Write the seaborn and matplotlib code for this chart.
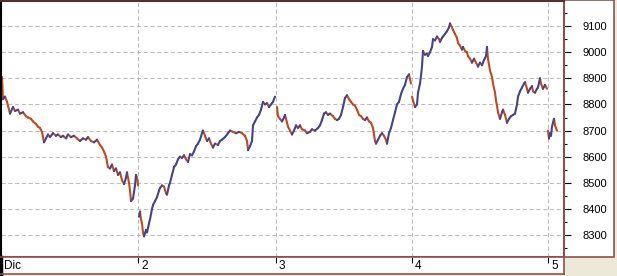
import numpy as np
import pandas as pd
import matplotlib
matplotlib.use("Agg")
import matplotlib.pyplot as plt
from matplotlib.patches import Rectangle
from matplotlib.ticker import MultipleLocator
import seaborn as sns

# ---- data: time axis in chart bar-units (one trading day ~ 137 units) ----
day_labels = ["Dic", "2", "3", "4", "5"]
day_starts = [1, 138, 275.7, 411.7, 548]

t_d1 = [2, 3, 5, 7, 10, 13, 15, 18, 20, 23, 26, 28, 31, 33, 36, 38, 40, 42, 44, 46,
        48, 50, 53, 56, 58, 61, 63, 66, 68, 71, 74, 77, 80, 83, 86, 88, 91, 94, 97, 100,
        102, 104, 106, 108, 110, 112, 114, 116, 118, 120, 122, 124, 126, 127, 129, 130,
        131, 133, 134, 135, 136, 137, 138]
p_d1 = [8905, 8820, 8830, 8810, 8765, 8790, 8775, 8780, 8765, 8770, 8755, 8750, 8745,
        8735, 8725, 8715, 8710, 8695, 8655, 8670, 8685, 8675, 8690, 8680, 8685, 8675,
        8680, 8670, 8685, 8675, 8680, 8670, 8660, 8670, 8665, 8675, 8660, 8655, 8665,
        8645, 8635, 8620, 8600, 8560, 8555, 8570, 8545, 8555, 8530, 8540, 8510, 8495,
        8520, 8540, 8500, 8470, 8430, 8440, 8465, 8490, 8530, 8520, 8490]

t_d2 = [139, 140, 141, 142, 143, 144, 146, 147, 149, 150, 152, 153, 155, 157, 159, 160,
        162, 164, 166, 167, 169, 170, 172, 174, 176, 178, 180, 182, 184, 186, 188, 190,
        192, 194, 196, 198, 200, 202, 203, 205, 207, 209, 211, 213, 215, 218, 220, 222,
        225, 228, 230, 233, 236, 239, 242, 245, 247, 248, 250, 252, 253, 255, 257, 259,
        261, 263, 265, 267, 269, 271, 273, 275]
p_d2 = [8370, 8390, 8360, 8345, 8310, 8295, 8320, 8310, 8345, 8360, 8400, 8415, 8430,
        8445, 8470, 8480, 8490, 8485, 8460, 8455, 8490, 8500, 8530, 8560, 8570, 8590,
        8600, 8595, 8605, 8590, 8580, 8610, 8605, 8620, 8640, 8650, 8665, 8690, 8700,
        8680, 8660, 8670, 8650, 8635, 8650, 8645, 8660, 8665, 8675, 8690, 8700, 8695,
        8690, 8695, 8690, 8680, 8660, 8625, 8640, 8660, 8720, 8735, 8750, 8760, 8780,
        8810, 8800, 8805, 8790, 8800, 8810, 8830]

t_d3 = [277, 278, 280, 282, 284, 285, 287, 288, 290, 292, 294, 296, 298, 300, 302, 305,
        307, 310, 312, 315, 318, 320, 322, 324, 326, 328, 330, 333, 335, 337, 339, 341,
        343, 345, 347, 349, 351, 353, 355, 357, 359, 361, 363, 365, 367, 369, 371, 373,
        375, 376, 378, 380, 382, 384, 386, 387, 389, 391, 393, 395, 397, 399, 401, 403,
        405, 407, 409, 411]
p_d3 = [8790, 8755, 8745, 8735, 8750, 8760, 8730, 8715, 8700, 8685, 8700, 8720, 8710,
        8720, 8705, 8700, 8690, 8695, 8705, 8700, 8710, 8720, 8740, 8765, 8770, 8760,
        8765, 8755, 8745, 8740, 8745, 8760, 8790, 8825, 8835, 8820, 8810, 8800, 8795,
        8780, 8760, 8755, 8745, 8740, 8750, 8735, 8730, 8710, 8660, 8650, 8665, 8680,
        8690, 8680, 8665, 8650, 8690, 8710, 8740, 8770, 8800, 8810, 8840, 8860, 8875,
        8905, 8915, 8880]

t_d4 = [412, 413, 415, 417, 418, 420, 421, 422, 423, 425, 427, 428, 430, 432, 433, 435,
        437, 439, 440, 442, 443, 445, 447, 449, 450, 452, 453, 455, 457, 458, 460, 462,
        463, 465, 467, 468, 470, 472, 474, 476, 478, 480, 482, 484, 486, 487, 488, 490,
        492, 493, 495, 496, 497, 498, 500, 502, 503, 505, 507, 509, 511, 513, 515, 517,
        518, 520, 522, 524, 525, 527, 528, 530, 532, 533, 535, 537, 538, 540, 541, 543,
        545, 547]
p_d4 = [8830, 8815, 8790, 8800, 8845, 8880, 8910, 8945, 9005, 8990, 8995, 8985, 9000,
        9020, 9050, 9045, 9060, 9050, 9040, 9055, 9060, 9070, 9080, 9095, 9110, 9095,
        9085, 9070, 9055, 9035, 9025, 9010, 9020, 9005, 9000, 8985, 8975, 8960, 8975,
        8960, 8945, 8960, 8950, 8970, 8985, 9020, 8975, 8930, 8905, 8880, 8845, 8815,
        8795, 8770, 8745, 8770, 8780, 8760, 8730, 8745, 8755, 8760, 8765, 8800, 8830,
        8850, 8865, 8880, 8885, 8860, 8845, 8860, 8870, 8850, 8845, 8860, 8865, 8900,
        8880, 8860, 8875, 8860]

t_d5 = [548, 549, 550, 551, 552, 553, 554, 555, 556, 557]
p_d5 = [8700, 8670, 8690, 8680, 8715, 8730, 8745, 8720, 8710, 8700]

days_t = [t_d1, t_d2, t_d3, t_d4, t_d5]
days_p = [p_d1, p_d2, p_d3, p_d4, p_d5]

# ---- build segment table (each bar connects previous close to close) ----
rows = []
seg = 0
for tt, pp in zip(days_t, days_p):
    for i in range(1, len(tt)):
        d = "up" if pp[i] > pp[i - 1] else "down"
        rows.append({"x": tt[i - 1], "y": pp[i - 1], "seg": seg, "dir": d})
        rows.append({"x": tt[i], "y": pp[i], "seg": seg, "dir": d})
        seg += 1
df = pd.DataFrame(rows)

# ---- styling ----
sns.set_theme(style="white")
plt.rcParams["font.family"] = ["Liberation Sans", "DejaVu Sans"]

BROWN = "#8C5050"
BEIGE = "#ECE9D8"
RED = "#C04A22"
BLUE = "#44448C"
W, H = 617, 276

fig = plt.figure(figsize=(W / 100, H / 100), dpi=100, facecolor=BEIGE)

# right y-label panel (white box)
fig.patches.append(Rectangle((564 / W, 19 / H), 50 / W, 257 / H, transform=fig.transFigure,
                             facecolor="white", edgecolor=BROWN, linewidth=1.2, zorder=-1))

ax = fig.add_axes([1 / W, 19 / H, 563 / W, 256 / H])
ax.set_facecolor("white")

sns.lineplot(data=df, x="x", y="y", hue="dir", units="seg", estimator=None, sort=False,
             palette={"up": BLUE, "down": RED}, legend=False, linewidth=1.5, ax=ax)

ax.set_xlim(1, 564)
ax.set_ylim(8216, 9196)
ax.set_xlabel("")
ax.set_ylabel("")

ax.yaxis.tick_right()
ax.yaxis.set_major_locator(MultipleLocator(100))
ax.yaxis.set_minor_locator(MultipleLocator(50))
ax.tick_params(axis="y", which="major", direction="out", length=5, width=0.8,
               color="black", pad=8.5, labelsize=8, labelcolor="black", right=True, left=False)
ax.tick_params(axis="y", which="minor", direction="out", length=2, width=0.8,
               color="black", right=True, left=False)
ax.set_xticks(day_starts)
ax.tick_params(axis="x", which="both", length=0, labelbottom=False)

ax.grid(True, axis="both", which="major", color="#BDBDBD", linewidth=0.75,
        linestyle=(0, (4, 2.5)))
for s in ["top", "right", "bottom"]:
    ax.spines[s].set_color(BROWN)
    ax.spines[s].set_linewidth(1.5)
ax.spines["top"].set_color("#503030")
ax.spines["left"].set_color("black")
ax.spines["left"].set_linewidth(1.5)

# bottom date strip
sax = fig.add_axes([1 / W, 2 / H, 563 / W, 17 / H])
sax.set_facecolor("white")
sax.set_xlim(1, 564)
sax.set_ylim(0, 1)
sax.set_yticks([])
sax.set_xticks(day_starts[1:])
sax.tick_params(axis="x", which="both", top=True, bottom=False, direction="in",
                length=4, width=0.8, color="black", labelbottom=False, labeltop=False)
for s in ["top", "right", "bottom"]:
    sax.spines[s].set_color(BROWN)
    sax.spines[s].set_linewidth(1.2)
sax.spines["left"].set_color("black")
sax.spines["left"].set_linewidth(2.5)
for lab, xs in zip(day_labels, day_starts):
    sax.text(xs + 3, 0.45, lab, ha="left", va="center", fontsize=8.5, color="black")

fig.savefig("out.png", dpi=100, facecolor=BEIGE)
